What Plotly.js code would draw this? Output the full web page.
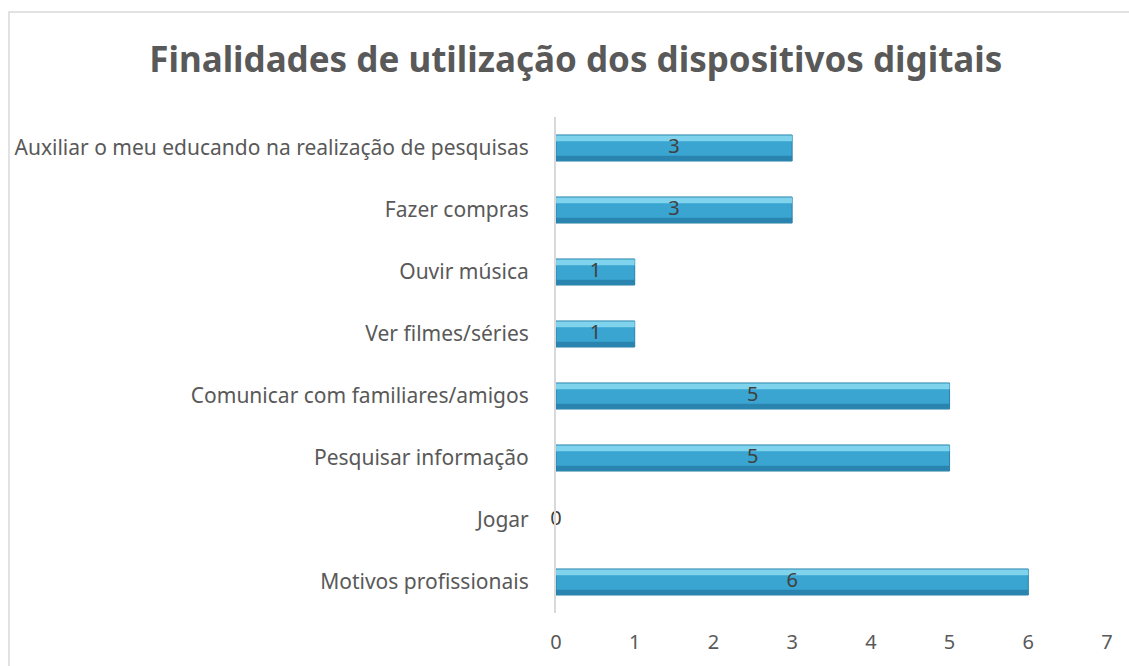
<!DOCTYPE html>
<html>
<head>
<meta charset="utf-8">
<script src="https://cdn.plot.ly/plotly-3.0.1.min.js"></script>
<style>html,body{margin:0;padding:0;background:#fff;}#chart{width:1129px;height:666px;}</style>
</head>
<body>
<div id="chart"></div>
<script>
const categories = [
  "Motivos profissionais",
  "Jogar",
  "Pesquisar informação",
  "Comunicar com familiares/amigos",
  "Ver filmes/séries",
  "Ouvir música",
  "Fazer compras",
  "Auxiliar o meu educando na realização de pesquisas"
];
const values = [6, 0, 5, 5, 1, 1, 3, 3];
const xTicks = [0, 1, 2, 3, 4, 5, 6, 7];

const FONT = "Noto Sans, sans-serif";
const GREY = "#595959";

const mainBar = {
  type: "bar",
  orientation: "h",
  y: categories,
  x: values,
  width: 0.42,
  marker: {color: "#3aa5d0", line: {color: "#2a80a8", width: values.map(v => v > 0 ? 1 : 0)}},
  hoverinfo: "skip",
  showlegend: false
};
const topLight = {
  type: "bar",
  orientation: "h",
  y: categories,
  x: values,
  width: 0.09,
  offset: 0.11,
  marker: {color: "rgba(140,218,242,0.85)", line: {width: 0}},
  hoverinfo: "skip",
  showlegend: false
};
const bottomDark = {
  type: "bar",
  orientation: "h",
  y: categories,
  x: values,
  width: 0.08,
  offset: -0.205,
  marker: {color: "rgba(38,125,166,0.8)", line: {width: 0}},
  hoverinfo: "skip",
  showlegend: false
};
const labels = {
  type: "scatter",
  mode: "text",
  y: categories,
  x: values.map(v => v / 2),
  text: values.map(String),
  textposition: "middle center",
  textfont: {family: FONT, size: 20, color: "#404040"},
  cliponaxis: false,
  hoverinfo: "skip",
  showlegend: false
};

const layout = {
  width: 1129,
  height: 666,
  margin: {l: 556, r: 22, t: 117, b: 53},
  paper_bgcolor: "#ffffff",
  plot_bgcolor: "#ffffff",
  barmode: "overlay",
  title: {
    text: "<b>Finalidades de utilização dos dispositivos digitais</b>",
    font: {family: FONT, size: 35, color: GREY},
    x: 0.51, xanchor: "center",
    y: 0.91, yanchor: "middle"
  },
  xaxis: {
    range: [0, 7],
    tickvals: xTicks,
    ticktext: xTicks.map(String),
    showgrid: false,
    zeroline: false,
    showline: false,
    ticks: "outside",
    ticklen: 11,
    tickcolor: "rgba(0,0,0,0)",
    tickfont: {family: FONT, size: 20, color: GREY},
    fixedrange: true
  },
  yaxis: {
    type: "category",
    categoryorder: "array",
    categoryarray: categories,
    showgrid: false,
    zeroline: false,
    showline: true,
    linecolor: "#d9d9d9",
    linewidth: 2,
    ticks: "outside",
    ticklen: 21,
    tickcolor: "rgba(0,0,0,0)",
    tickfont: {family: FONT, size: 21, color: GREY},
    fixedrange: true
  },
  shapes: [{
    type: "rect",
    xref: "paper", yref: "paper",
    x0: (9 - 556) / 551, x1: 1.2,
    y0: -0.3, y1: (613 - 12) / 496,
    line: {color: "#d9d9d9", width: 1.5},
    fillcolor: "rgba(0,0,0,0)",
    layer: "below"
  }]
};

Plotly.newPlot("chart", [mainBar, topLight, bottomDark, labels], layout, {displayModeBar: false, staticPlot: true});
</script>
</body>
</html>
